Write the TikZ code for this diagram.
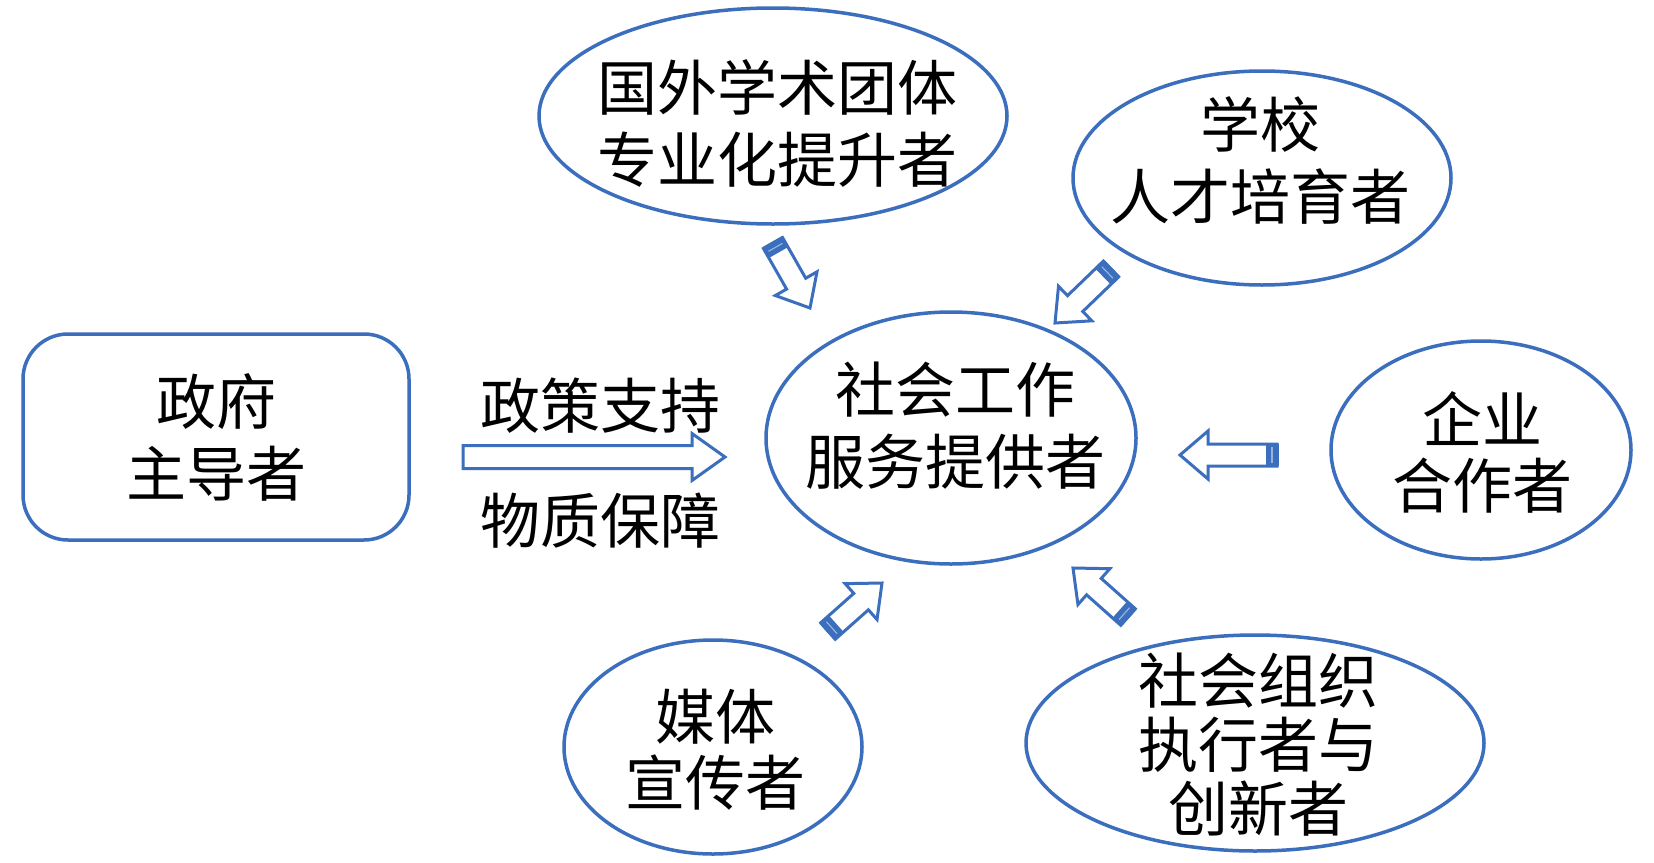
\documentclass[tikz,border=0pt]{standalone}
\usepackage{fontspec}
\usetikzlibrary{shapes.geometric,calc}
\newfontfamily\cjk{Noto Sans CJK SC}
\definecolor{bl}{RGB}{60,110,190}
\definecolor{lbl}{RGB}{150,180,225}
\tikzset{
 shp/.style={draw=bl, line width=3.5pt},
 ell/.style={shp, ellipse, inner sep=0pt},
 txt/.style={font=\cjk\fontsize{60}{72}\selectfont, align=center, inner sep=0pt, text=black},
 blk/.style={draw=bl, line width=3pt, fill=white, line join=miter},
}
% #1 tail, #2 tip, #3 half shaft width, #4 half head width, #5 head length
\newcommand\blockarrow[5]{%
  \coordinate (hb) at ($(#2)!#5!(#1)$);
  \draw[blk] ($(#1)!#3!90:(#2)$) -- ($(hb)!#3!90:(#2)$) -- ($(hb)!#4!90:(#2)$) -- (#2)
    -- ($(hb)!#4!-90:(#2)$) -- ($(hb)!#3!-90:(#2)$) -- ($(#1)!#3!-90:(#2)$) -- cycle;
}
\newcommand\striparrow[2]{%
  \coordinate (sa) at ($(#1)!5pt!(#2)$);
  \coordinate (sc) at ($(#1)!11pt!(#2)$);
  \blockarrow{#1}{#2}{11pt}{24pt}{28pt}
  \fill[bl] ($(#1)!11pt!90:(#2)$) -- ($(sc)!11pt!90:(#2)$) -- ($(sc)!11pt!-90:(#2)$) -- ($(#1)!11pt!-90:(#2)$) -- cycle;
  \draw[lbl, line width=1.2pt] ($(sa)!8pt!90:(#2)$) -- ($(sa)!8pt!-90:(#2)$);
  \draw[blk, fill=none] ($(#1)!11pt!90:(#2)$) -- ($(#1)!11pt!-90:(#2)$);
}
\begin{document}
\begin{tikzpicture}[x=1pt,y=-1pt]
\useasboundingbox[fill=white] (0,0) rectangle (1654,862);

% shapes
\draw[shp, rounded corners=45pt] (23,334) rectangle (409,540);
\node[ell, minimum width=468pt, minimum height=216pt] (guowai) at (773,116) {};
\node[ell, minimum width=378pt, minimum height=214pt] (xuexiao) at (1262,178) {};
\node[ell, minimum width=370pt, minimum height=252pt] (center) at (951,438) {};
\node[ell, minimum width=300pt, minimum height=218pt] (qiye) at (1481,450) {};
\node[ell, minimum width=298pt, minimum height=214pt] (meiti) at (713,747) {};
\node[ell, minimum width=458pt, minimum height=216pt] (shehui) at (1255,743) {};

% texts
\node[txt] (t-gov) at (216,437) {政府\\主导者};
\node[txt] (t-guowai) at (777,123) {国外学术团体\\专业化提升者};
\node[txt] (t-xuexiao) at (1260,160) {学校\\人才培育者};
\node[txt] (t-center) at (955,426) {社会工作\\服务提供者};
\node[txt, font=\cjk\fontsize{60}{66}\selectfont] (t-qiye) at (1482,452) {企业\\合作者};
\node[txt, font=\cjk\fontsize{60}{66}\selectfont] (t-meiti) at (715,750) {媒体\\宣传者};
\node[txt, font=\cjk\fontsize{60}{64}\selectfont] (t-shehui) at (1258,745) {社会组织\\执行者与\\创新者};
\node[txt] (t-zc) at (600,406) {政策支持};
\node[txt] (t-wz) at (600,521) {物质保障};

% arrows
\coordinate (g1) at (463,457);
\coordinate (g2) at (725,457);
\blockarrow{g1}{g2}{11.5pt}{23.5pt}{33pt}

\coordinate (a1s) at (773,243); \coordinate (a1e) at (810,308);
\coordinate (a2s) at (1111,269); \coordinate (a2e) at (1055,323);
\coordinate (a3s) at (1277,455); \coordinate (a3e) at (1180,455);
\coordinate (a4s) at (828,631); \coordinate (a4e) at (882,583);
\coordinate (a5s) at (1128,617); \coordinate (a5e) at (1073,568);
\striparrow{a1s}{a1e}
\striparrow{a2s}{a2e}
\striparrow{a3s}{a3e}
\striparrow{a4s}{a4e}
\striparrow{a5s}{a5e}
\end{tikzpicture}
\end{document}
